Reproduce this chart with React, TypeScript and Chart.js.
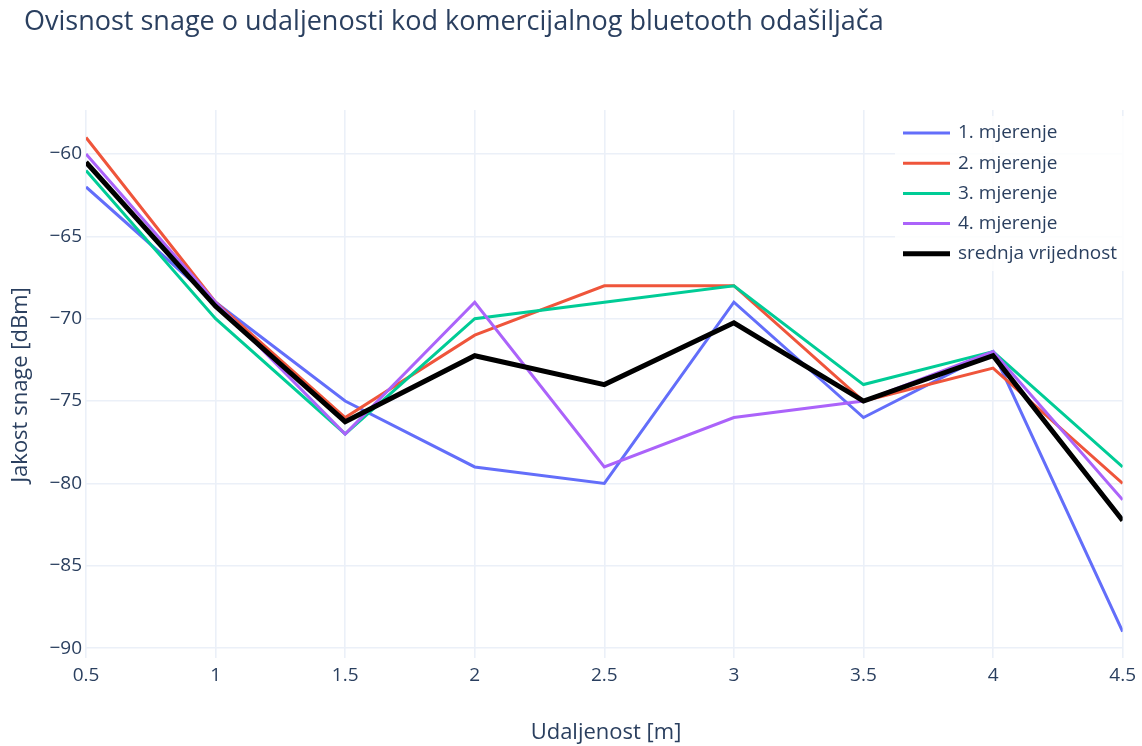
import React, { useEffect, useRef } from "react";
import { Chart, registerables } from "chart.js";

Chart.register(...registerables);

const distances = [0.5, 1, 1.5, 2, 2.5, 3, 3.5, 4, 4.5];
const mjerenje1 = [-62, -69, -75, -79, -80, -69, -76, -72, -89];
const mjerenje2 = [-59, -69, -76, -71, -68, -68, -75, -73, -80];
const mjerenje3 = [-61, -70, -77, -70, -69, -68, -74, -72, -79];
const mjerenje4 = [-60, -69, -77, -69, -79, -76, -75, -72, -81];
const srednja = [-60.5, -69.25, -76.25, -72.25, -74, -70.25, -75, -72.25, -82.25];
const seriesNames = ["1. mjerenje", "2. mjerenje", "3. mjerenje", "4. mjerenje", "srednja vrijednost"];
const seriesColors = ["#636efa", "#EF553B", "#00cc96", "#ab63fa", "#000000"];
const yTicks = [-90, -85, -80, -75, -70, -65, -60];
const xTicks = [0.5, 1, 1.5, 2, 2.5, 3, 3.5, 4, 4.5];

const titleText = "Ovisnost snage o udaljenosti kod komercijalnog bluetooth odašiljača";
const xTitle = "Udaljenost [m]";
const yTitle = "Jakost snage [dBm]";

const FONT = '"Open Sans", "Noto Sans", sans-serif';
const TEXT = "#2a3f5f";

export default function App() {
  const ref = useRef<HTMLCanvasElement | null>(null);
  useEffect(() => {
    if (!ref.current) return;
    const all = [mjerenje1, mjerenje2, mjerenje3, mjerenje4, srednja];
    const datasets = all.map((arr, i) => ({
      label: seriesNames[i],
      data: arr.map((v, j) => ({ x: distances[j], y: v })),
      borderColor: seriesColors[i],
      backgroundColor: seriesColors[i],
      borderWidth: i === 4 ? 5 : 3,
      pointRadius: 0,
      tension: 0,
      order: 5 - i,
    }));

    const textPlugin = {
      id: "textPlugin",
      afterDatasetsDraw(chart: any) {
        const ctx = chart.ctx;
        ctx.save();
        const lx = 895, ly = 116, lw = 238, lh = 155;
        ctx.fillStyle = "rgba(255,255,255,0.85)";
        ctx.fillRect(lx, ly, lw, lh);
        seriesNames.forEach((name, i) => {
          const y = 133 + i * 30.2;
          ctx.strokeStyle = seriesColors[i];
          ctx.lineWidth = i === 4 ? 5 : 3;
          ctx.beginPath();
          ctx.moveTo(903, y);
          ctx.lineTo(950, y);
          ctx.stroke();
          ctx.fillStyle = TEXT;
          ctx.font = `19px ${FONT}`;
          ctx.textAlign = "left";
          ctx.textBaseline = "middle";
          ctx.fillText(name, 958, y);
        });
        ctx.restore();
      },
      afterDraw(chart: any) {
        const ctx = chart.ctx;
        ctx.save();
        ctx.fillStyle = TEXT;
        ctx.textBaseline = "middle";
        ctx.textAlign = "left";
        ctx.font = `27px ${FONT}`;
        ctx.fillText(titleText, 24, 22);
        ctx.textAlign = "center";
        ctx.font = `22px ${FONT}`;
        ctx.fillText(xTitle, 606, 733);
        ctx.translate(21, 385);
        ctx.rotate(-Math.PI / 2);
        ctx.fillText(yTitle, 0, 0);
        ctx.restore();
      },
    };

    const chart = new Chart(ref.current, {
      type: "line",
      data: { datasets },
      options: {
        animation: false,
        responsive: false,
        maintainAspectRatio: false,
        layout: { padding: { top: 110, right: 17, left: 0, bottom: 0 } },
        plugins: {
          legend: { display: false },
          title: { display: false },
          tooltip: { enabled: false },
        },
        scales: {
          x: {
            type: "linear",
            min: 0.5,
            max: 4.5,
            afterBuildTicks: (axis: any) => {
              axis.ticks = xTicks.map((v) => ({ value: v }));
            },
            afterFit: (axis: any) => {
              axis.height = 88;
            },
            grid: { color: "#EBF0F8", lineWidth: 1.6, drawTicks: false },
            border: { display: false },
            ticks: {
              color: TEXT,
              font: { family: FONT, size: 19 },
              padding: 6,
              maxRotation: 0,
              callback: (v: any) => String(v),
            },
          },
          y: {
            type: "linear",
            min: -90.6,
            max: -57.33,
            afterBuildTicks: (axis: any) => {
              axis.ticks = yTicks.map((v) => ({ value: v }));
            },
            afterFit: (axis: any) => {
              axis.width = 86;
            },
            grid: { color: "#EBF0F8", lineWidth: 1.6, drawTicks: false },
            border: { display: false },
            ticks: {
              color: TEXT,
              font: { family: FONT, size: 19 },
              padding: 4,
              callback: (v: any) => (v < 0 ? "\u2212" + Math.abs(v) : String(v)),
            },
          },
        },
      },
      plugins: [textPlugin],
    });
    return () => chart.destroy();
  }, []);

  return (
    <div style={{ position: "absolute", left: 0, top: 0, width: 1142, height: 746, background: "#fff" }}>
      <canvas ref={ref} width={1142} height={746} style={{ width: 1142, height: 746 }} />
    </div>
  );
}
